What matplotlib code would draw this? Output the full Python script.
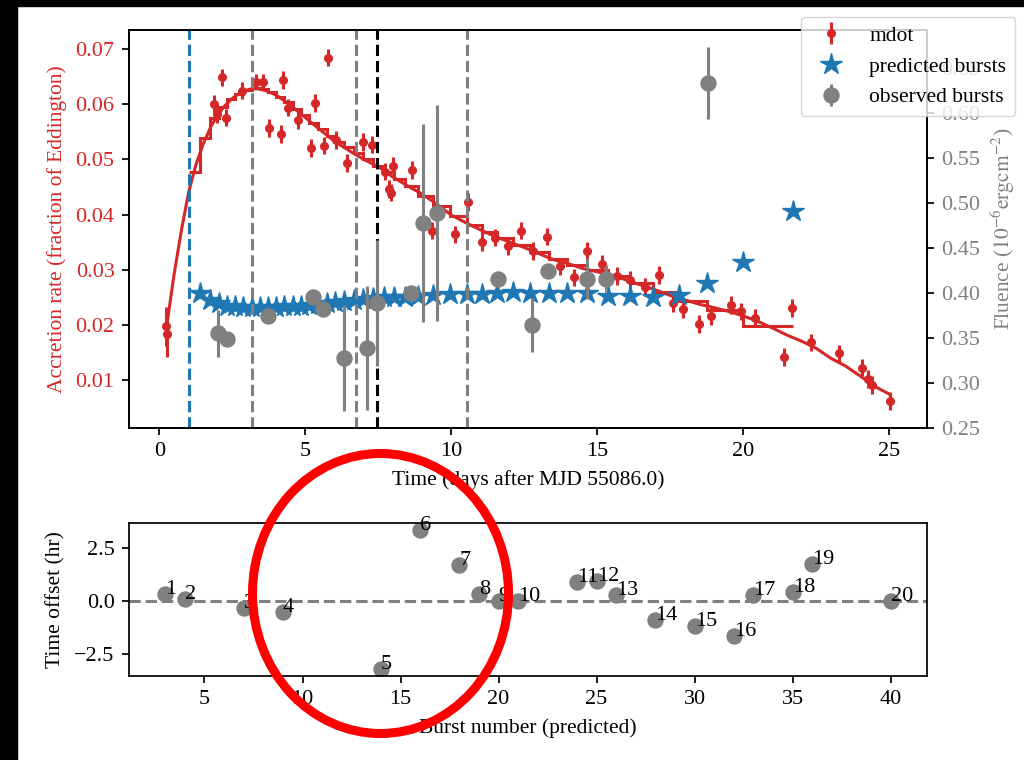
import numpy as np
import matplotlib
matplotlib.use("Agg")
import matplotlib.pyplot as plt
from matplotlib.patches import Ellipse, Rectangle

plt.rcParams["font.family"] = "serif"
plt.rcParams["font.serif"] = ["Liberation Serif", "DejaVu Serif"]
plt.rcParams["mathtext.fontset"] = "stix"
plt.rcParams["font.size"] = 15.5
plt.rcParams["axes.linewidth"] = 1.25
for ax_name in ("xtick", "ytick"):
    plt.rcParams[f"{ax_name}.major.size"] = 5.0
    plt.rcParams[f"{ax_name}.major.width"] = 1.25
    plt.rcParams[f"{ax_name}.major.pad"] = 5.4
    plt.rcParams[f"{ax_name}.labelsize"] = 16
plt.rcParams["axes.labelpad"] = 6.2

RED = "#d62728"
BLUE = "#1f77b4"
GREY = "grey"

# accretion rate measurements (days, fraction of Eddington)
mdot_t = [0.22, 0.27, 1.87, 1.99, 2.14, 2.28, 2.82, 3.30, 3.54, 3.76, 4.16, 4.23,
          4.42, 4.76, 5.20, 5.33, 5.64, 5.79, 6.05, 6.42, 6.97, 7.29, 7.73, 7.88,
          7.94, 8.01, 8.64, 9.33, 10.11, 10.57, 11.04, 11.50, 11.94, 12.38, 12.79,
          13.27, 13.72, 14.19, 14.66, 15.15, 15.66, 16.12, 16.62, 17.12, 17.60,
          17.95, 18.49, 18.88, 19.58, 19.91, 20.41, 21.40, 21.67, 22.31, 23.28,
          24.05, 24.26, 24.40, 25.02]
mdot = [0.0197, 0.0183, 0.0601, 0.0583, 0.0649, 0.0576, 0.0625, 0.0641, 0.0640,
        0.0557, 0.0546, 0.0644, 0.0594, 0.0572, 0.0521, 0.0603, 0.0525, 0.0685,
        0.0535, 0.0494, 0.0532, 0.0527, 0.0478, 0.0446, 0.0440, 0.0489, 0.0481,
        0.0371, 0.0364, 0.0423, 0.0350, 0.0358, 0.0342, 0.0371, 0.0334, 0.0360,
        0.0306, 0.0286, 0.0334, 0.0311, 0.0288, 0.0282, 0.0268, 0.0290, 0.0239,
        0.0228, 0.0201, 0.0216, 0.0236, 0.0224, 0.0213, 0.0141, 0.0230, 0.0168,
        0.0148, 0.0122, 0.0101, 0.0090, 0.0062]
mdot_err = [0.0035, 0.0042, 0.0016, 0.0016, 0.0016, 0.0016, 0.0016, 0.0015, 0.0015,
            0.0016, 0.0016, 0.0016, 0.0016, 0.0016, 0.0016, 0.0016, 0.0016, 0.0016,
            0.0016, 0.0016, 0.0016, 0.0016, 0.0016, 0.0016, 0.0016, 0.0016, 0.0016,
            0.0016, 0.0016, 0.0016, 0.0016, 0.0016, 0.0016, 0.0016, 0.0016, 0.0016,
            0.0016, 0.0016, 0.0016, 0.0016, 0.0016, 0.0016, 0.0016, 0.0016, 0.0016,
            0.0016, 0.0016, 0.0016, 0.0016, 0.0016, 0.0016, 0.0016, 0.0016, 0.0016,
            0.0016, 0.0016, 0.0016, 0.0016, 0.0016]

# smooth accretion-rate model
model_t = [0.25, 0.5, 0.75, 1.0, 1.25, 1.5, 1.75, 2.0, 2.25, 2.5, 2.75, 3.0, 3.25,
           3.5, 4.0, 4.5, 5.0, 5.5, 6.0, 6.5, 7.0, 7.5, 8.0, 8.5, 9.0, 9.5, 10.0,
           10.5, 11.0, 11.5, 12.0, 12.5, 13.0, 13.5, 14.0, 14.5, 15.0, 15.5, 16.0,
           16.5, 17.0, 17.5, 18.0, 18.5, 19.0, 19.5, 20.0, 20.5, 21.0, 21.5, 22.0,
           22.5, 23.0, 23.5, 24.0, 24.5, 25.0]
model_mdot = [0.0197, 0.0290, 0.0370, 0.0440, 0.0490, 0.0528, 0.0558, 0.0581, 0.0598,
              0.0611, 0.0620, 0.0626, 0.0630, 0.0628, 0.0617, 0.0598, 0.0576, 0.0554,
              0.0533, 0.0516, 0.0500, 0.0487, 0.0468, 0.0452, 0.0437, 0.0419, 0.0399,
              0.0385, 0.0372, 0.0360, 0.0350, 0.0340, 0.0329, 0.0318, 0.0311, 0.0302,
              0.0296, 0.0290, 0.0281, 0.0272, 0.0263, 0.0253, 0.0245, 0.0237, 0.0231,
              0.0224, 0.0216, 0.0206, 0.0194, 0.0181, 0.0170, 0.0157, 0.0139, 0.0125,
              0.0107, 0.0088, 0.0074]

# predicted bursts: times and fluences
start_t = 1.02
burst_t = [1.39, 1.73, 2.03, 2.32, 2.60, 2.88, 3.16, 3.44, 3.72, 4.00, 4.28, 4.56,
           4.85, 5.14, 5.43, 5.73, 6.03, 6.34, 6.66, 6.99, 7.33, 7.68, 8.04, 8.42,
           8.87, 9.38, 9.96, 10.53, 11.04, 11.55, 12.12, 12.71, 13.33, 13.96, 14.65,
           15.37, 16.12, 16.92, 17.80, 18.77, 20.00, 21.69]
burst_fluence = [0.400, 0.392, 0.389, 0.386, 0.385, 0.384, 0.384, 0.384, 0.384,
                 0.384, 0.385, 0.385, 0.386, 0.387, 0.388, 0.389, 0.390, 0.391,
                 0.392, 0.393, 0.394, 0.395, 0.396, 0.396, 0.397, 0.398, 0.399,
                 0.399, 0.399, 0.400, 0.401, 0.400, 0.400, 0.400, 0.400, 0.397,
                 0.397, 0.396, 0.398, 0.411, 0.434, 0.491]
# mean accretion rate between consecutive predicted bursts
step_mdot = [0.0478, 0.0539, 0.0575, 0.0596, 0.0610, 0.0619, 0.0626, 0.0630, 0.0628,
             0.0622, 0.0614, 0.0604, 0.0592, 0.0580, 0.0567, 0.0555, 0.0543, 0.0532,
             0.0522, 0.0511, 0.0500, 0.0489, 0.0477, 0.0464, 0.0451, 0.0434, 0.0415,
             0.0397, 0.0381, 0.0368, 0.0357, 0.0345, 0.0332, 0.0320, 0.0309, 0.0299,
             0.0289, 0.0276, 0.0259, 0.0243, 0.0227, 0.0198]

# observed bursts
obs_t = [2.02, 2.33, 3.71, 5.27, 5.62, 6.34, 7.10, 7.47, 8.62, 9.04, 9.52, 11.61,
         12.77, 13.30, 14.64, 15.30, 18.78]
obs_fluence = [0.355, 0.349, 0.374, 0.396, 0.382, 0.328, 0.339, 0.389, 0.400,
               0.478, 0.489, 0.416, 0.364, 0.424, 0.416, 0.416, 0.633]
obs_err = [0.026, 0.004, 0.004, 0.004, 0.008, 0.059, 0.069, 0.070, 0.005, 0.110,
           0.120, 0.005, 0.030, 0.005, 0.023, 0.015, 0.040]

grey_lines = [3.16, 6.74, 10.53]
ref_line = 7.47

# matched bursts: predicted burst number and time offset (hr)
match_num = [3, 4, 7, 9, 14, 16, 18, 19, 20, 21, 24, 25, 26, 28, 30, 32, 33, 35, 36, 40]
match_offset = [0.32, 0.08, -0.31, -0.50, -3.20, 3.35, 1.69, 0.32, 0.0, 0.0,
                0.90, 0.95, 0.28, -0.90, -1.15, -1.66, 0.28, 0.45, 1.77, 0.0]
match_label = [str(i) for i in range(1, 21)]

W, H = 1024, 760
fig = plt.figure(figsize=(W / 100, H / 100), dpi=100)
fig.patch.set_facecolor("white")

ax1 = fig.add_axes([129 / W, 1 - 428 / H, 798 / W, 398 / H])
ax2 = ax1.twinx()
ax3 = fig.add_axes([129 / W, 1 - 676 / H, 798 / W, 153 / H])

# accretion rate panel
ax1.plot(model_t, model_mdot, color=RED, lw=2.2)
ax1.stairs(step_mdot, [start_t] + burst_t, baseline=None, color=RED, lw=2.2)
h_mdot = ax1.errorbar(mdot_t, mdot, yerr=mdot_err, fmt="o", color=RED, ms=5.5,
                      elinewidth=2.2, label="mdot")
ax1.set_xlim(-1.04, 26.29)
ax1.set_ylim(0.00125, 0.0735)
ax1.set_xticks([0, 5, 10, 15, 20, 25])
ax1.set_yticks([0.01, 0.02, 0.03, 0.04, 0.05, 0.06, 0.07])
ax1.tick_params(axis="y", labelcolor=RED)
ax1.set_ylabel("Accretion rate (fraction of Eddington)", color=RED)
ax1.set_xlabel("Time (days after MJD 55086.0)")

h_pred, = ax2.plot(burst_t, burst_fluence, "*", color=BLUE, ms=16, label="predicted bursts")
ax2.axvline(start_t, color=BLUE, ls="--", lw=2.2)
for x in grey_lines:
    ax2.axvline(x, color=GREY, ls="--", lw=2.2)
ax2.axvline(ref_line, color="black", ls="--", lw=2.2)
h_obs = ax2.errorbar(obs_t, obs_fluence, yerr=obs_err, fmt="o", color=GREY, ms=10.8,
                     elinewidth=2.2, label="observed bursts")
ax2.set_ylim(0.25, 0.692)
ax2.set_yticks([0.25, 0.30, 0.35, 0.40, 0.45, 0.50, 0.55, 0.60, 0.65])
ax2.tick_params(axis="y", labelcolor=GREY)
ax2.set_ylabel(r"Fluence ($10^{-6}\mathrm{erg cm}^{-2}$)", color=GREY)

fig.legend(handles=[h_mdot, h_pred, h_obs], loc="upper right",
           bbox_to_anchor=(1015 / W, 1 - 17 / H), borderaxespad=0)

# timing offsets panel
ax3.axhline(0, color=GREY, ls="--", lw=2.2)
ax3.plot(match_num, match_offset, "o", color=GREY, ms=10.8)
for n, off, lab in zip(match_num, match_offset, match_label):
    ax3.text(n, off, lab, fontsize=16)
ax3.set_xticks([5, 10, 15, 20, 25, 30, 35, 40])
ax3.set_yticks([-2.5, 0.0, 2.5])
ax3.set_xlabel("Burst number (predicted)")
ax3.set_ylabel("Time offset (hr)")

# highlight ring and screen border
fig.add_artist(Ellipse((380.5 / W, 1 - 593.5 / H), 256 / W, 280 / H,
                       transform=fig.transFigure, fill=False, edgecolor="#ff0000",
                       lw=6.5, zorder=10))
fig.add_artist(Rectangle((0, 1 - 6 / H), 1, 6 / H, transform=fig.transFigure,
                         color="black", zorder=11))
fig.add_artist(Rectangle((0, 0), 17 / W, 1, transform=fig.transFigure,
                         color="black", zorder=11))

fig.savefig("out.png", dpi=100)
